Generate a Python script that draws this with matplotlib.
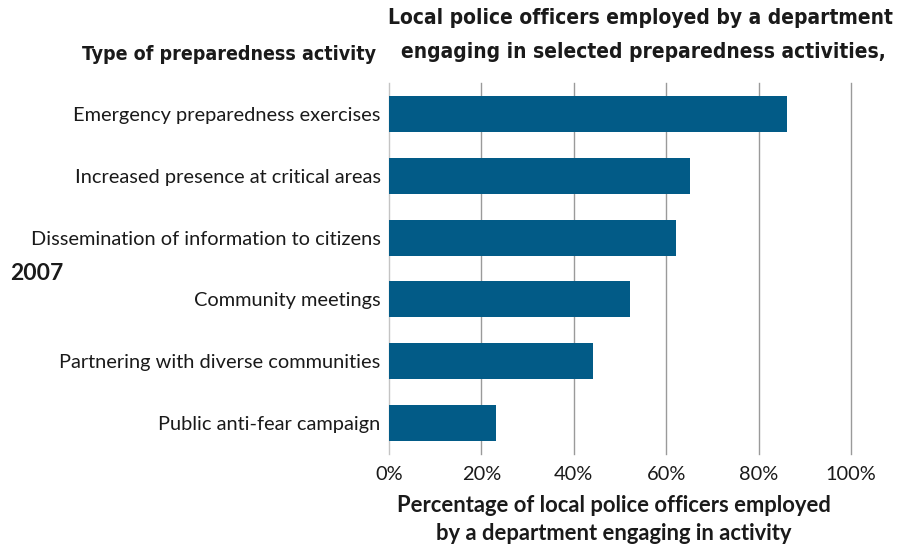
import matplotlib.pyplot as plt
import matplotlib.ticker as mticker

# ── Data ───────────────────────────────────────────────────────────────────────
activities = [
    'Emergency preparedness exercises',
    'Increased presence at critical areas',
    'Dissemination of information to citizens',
    'Community meetings',
    'Partnering with diverse communities',
    'Public anti-fear campaign',
]
pct_officers = [86.2, 65.2, 62.2, 52.2, 44.2, 23.2]
x_ticks = [0, 20, 40, 60, 80, 100]

BAR_COLOR = '#025b87'
TEXT_COLOR = '#1a1a1a'
LABEL_FONT = 'Lato'
NARROW = dict(family='DejaVu Sans', stretch='condensed', fontweight='bold')

fig = plt.figure(figsize=(9.02, 5.46), dpi=100)
ax = fig.add_axes([389 / 902, 1 - 454 / 546, 462 / 902, 371 / 546])

ax.barh(range(len(activities)), pct_officers, height=0.58,
        color=BAR_COLOR, zorder=3)

ax.set_ylim(len(activities) - 0.5, -0.5)
ax.set_xlim(0, 100)
ax.set_xticks(x_ticks)
ax.xaxis.set_major_formatter(mticker.FuncFormatter(lambda v, _: f'{v:.0f}%'))
ax.set_yticks(range(len(activities)))
ax.set_yticklabels(activities)

for s in ax.spines.values():
    s.set_visible(False)
ax.grid(axis='x', color='#9a9a9a', linewidth=1.0, zorder=0)
ax.tick_params(length=0, labelsize=14.4, labelcolor=TEXT_COLOR)
ax.tick_params(axis='x', pad=9)
ax.tick_params(axis='y', pad=6)
for lbl in ax.get_xticklabels() + ax.get_yticklabels():
    lbl.set_family(LABEL_FONT)
gridlines = ax.get_xgridlines()
for gl in gridlines:
    gl.set_clip_on(False)
# lighter line at 0%
gridlines[0].set_color('#c4c4c4')

# ── Titles ─────────────────────────────────────────────────────────────────────
fig.text(640 / 902, 1 - 18 / 546,
         'Local police officers employed by a department',
         ha='center', va='center', fontsize=15, color=TEXT_COLOR, **NARROW)
fig.text(643 / 902, 1 - 52 / 546,
         'engaging in selected preparedness activities,',
         ha='center', va='center', fontsize=15, color=TEXT_COLOR, **NARROW)
fig.text(376 / 902, 1 - 55 / 546, 'Type of preparedness activity',
         ha='right', va='center', fontsize=14, color=TEXT_COLOR, **NARROW)
fig.text(10 / 902, 1 - 273 / 546, '2007',
         ha='left', va='center', fontsize=16.5, fontweight='bold',
         family=LABEL_FONT, color=TEXT_COLOR)

fig.text(614 / 902, 1 - 505 / 546,
         'Percentage of local police officers employed',
         ha='center', va='center', fontsize=15.8, fontweight='bold',
         family=LABEL_FONT, color=TEXT_COLOR)
fig.text(614 / 902, 1 - 533 / 546,
         'by a department engaging in activity',
         ha='center', va='center', fontsize=15.8, fontweight='bold',
         family=LABEL_FONT, color=TEXT_COLOR)

fig.savefig('out.png', dpi=100, facecolor='white')
